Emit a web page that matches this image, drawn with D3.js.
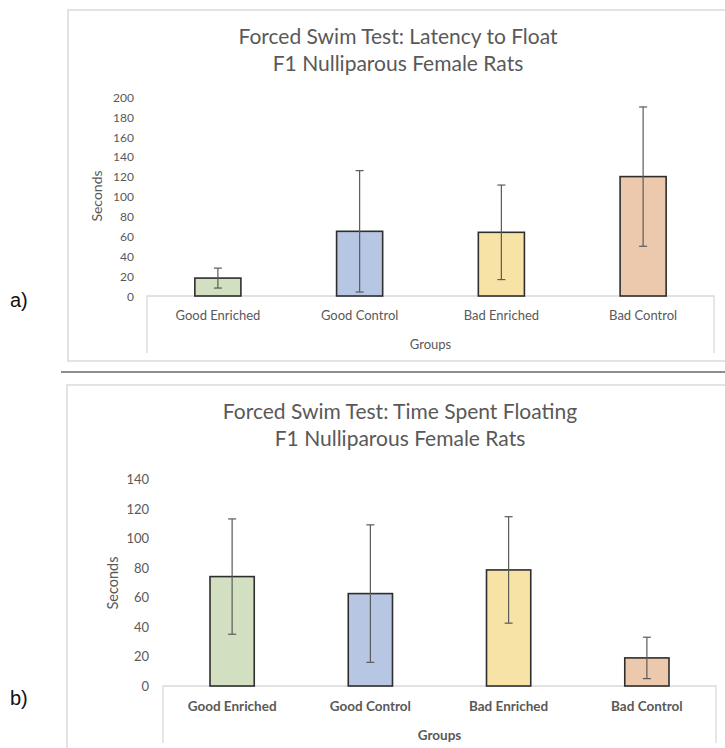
<!DOCTYPE html>
<html>
<head>
<meta charset="utf-8">
<script src="https://cdn.jsdelivr.net/npm/d3@7"></script>
<style>
  body { margin: 0; background: #fff; }
  svg { display: block; }
  text { font-family: Lato, "Open Sans", sans-serif; }
</style>
</head>
<body>
<div class="fig"></div>
<script>
var W = 725, H = 748;

// data
var groups = ["Good Enriched", "Good Control", "Bad Enriched", "Bad Control"];
var barColors = ["#d2e0c1", "#b7c6e2", "#f7e3a6", "#ecc9ad"];
var latencyMeans = [18, 65, 64, 120];
var latencyErr = [10, 61, 47.5, 70];
var latencyTicks = [0, 20, 40, 60, 80, 100, 120, 140, 160, 180, 200];
var floatMeans = [74, 62.5, 78.5, 19];
var floatErr = [39, 46.5, 36, 14];
var floatTicks = [0, 20, 40, 60, 80, 100, 120, 140];

var svg = d3.select(".fig").append("svg")
    .attr("width", W).attr("height", H);

// separator between the two panels
svg.append("line")
    .attr("x1", 61).attr("x2", W).attr("y1", 372).attr("y2", 372)
    .attr("stroke", "#8f8f8f").attr("stroke-width", 2);

function drawChart(cfg){ // one excel-style bar chart with error bars
    var g = svg.append("g");

    g.append("rect") // chart border
        .attr("x", cfg.box[0]).attr("y", cfg.box[1])
        .attr("width", cfg.box[2]).attr("height", cfg.box[3])
        .attr("fill", "none").attr("stroke", "#dadada").attr("stroke-width", 1.5);

    g.append("text").text(cfg.label) // a) / b)
        .attr("x", 10).attr("y", cfg.labelY)
        .style("font-family", "'Liberation Sans', Arial, sans-serif")
        .style("font-size", "20px").attr("fill", "#111");

    cfg.title.forEach(function(t, i){
        g.append("text").text(t)
            .attr("x", cfg.titleX).attr("y", cfg.titleY[i])
            .attr("text-anchor", "middle")
            .style("font-size", cfg.titleSize + "px")
            .attr("fill", "#595959");
    });

    var x = d3.scaleBand().domain(groups).range([cfg.x0, cfg.x1]).padding(0);
    var y = d3.scaleLinear().domain([0, cfg.ymax]).range([cfg.y0, cfg.yTop]);
    var bw = x.bandwidth() * cfg.barFrac;

    // y tick labels (no axis line in the original)
    var yAxis = d3.axisLeft(y).tickValues(cfg.ticks).tickSize(0).tickPadding(0);
    var ya = g.append("g")
        .attr("transform", `translate(${cfg.tickRight},0)`)
        .call(yAxis);
    ya.select(".domain").remove();
    ya.selectAll("text")
        .attr("dy", "0.35em")
        .style("font-family", "Lato, sans-serif")
        .style("font-size", cfg.tickSize + "px")
        .attr("fill", "#595959");

    g.append("text").text("Seconds")
        .attr("transform", `translate(${cfg.ylabX},${cfg.ylabY}) rotate(-90)`)
        .attr("text-anchor", "middle").attr("dy", "0.35em")
        .style("font-size", cfg.ylabSize + "px")
        .attr("fill", "#595959");

    // category axis box
    var boxBottom = cfg.catBottom;
    g.append("path")
        .attr("d", `M${cfg.x0},${boxBottom}V${cfg.y0}H${cfg.x1}V${boxBottom}`)
        .attr("fill", "none").attr("stroke", "#d9d9d9").attr("stroke-width", 1.3);

    g.selectAll(".cat").data(groups).enter().append("text")
        .attr("class", "cat")
        .text(function(d){ return d; })
        .attr("x", function(d){ return x(d) + x.bandwidth() / 2; })
        .attr("y", cfg.catY).attr("dy", "0.35em")
        .attr("text-anchor", "middle")
        .style("font-size", cfg.catSize + "px")
        .style("font-weight", cfg.catWeight)
        .attr("fill", "#595959");

    g.append("text").text("Groups")
        .attr("x", (cfg.x0 + cfg.x1) / 2).attr("y", cfg.groupsY).attr("dy", "0.35em")
        .attr("text-anchor", "middle")
        .style("font-size", cfg.catSize + "px")
        .style("font-weight", cfg.catWeight)
        .attr("fill", "#595959");

    // bars
    g.selectAll(".bar").data(cfg.means).enter().append("rect")
        .attr("class", "bar")
        .attr("x", function(d, i){ return x(groups[i]) + (x.bandwidth() - bw) / 2; })
        .attr("y", function(d){ return y(d); })
        .attr("width", bw)
        .attr("height", function(d){ return y(0) - y(d); })
        .attr("fill", function(d, i){ return barColors[i]; })
        .attr("stroke", "#2e2e2e").attr("stroke-width", 1.6);

    // error bars
    var eb = g.selectAll(".err").data(cfg.means).enter().append("g")
        .attr("class", "err")
        .attr("stroke", "#5a5a5a").attr("stroke-width", 1.2);
    var cx = function(i){ return x(groups[i]) + x.bandwidth() / 2; };
    eb.append("line")
        .attr("x1", function(d, i){ return cx(i); })
        .attr("x2", function(d, i){ return cx(i); })
        .attr("y1", function(d, i){ return y(d + cfg.err[i]); })
        .attr("y2", function(d, i){ return y(d - cfg.err[i]); });
    [1, -1].forEach(function(s){
        eb.append("line")
            .attr("x1", function(d, i){ return cx(i) - 4; })
            .attr("x2", function(d, i){ return cx(i) + 4; })
            .attr("y1", function(d, i){ return y(d + s * cfg.err[i]); })
            .attr("y2", function(d, i){ return y(d + s * cfg.err[i]); });
    });
}

drawChart({
    label: "a)", labelY: 307,
    box: [68, 10, 670, 351],
    title: ["Forced Swim Test: Latency to Float", "F1 Nulliparous Female Rats"],
    titleX: 398, titleY: [44, 71], titleSize: 21,
    x0: 147, x1: 714, y0: 296, yTop: 97, ymax: 200,
    barFrac: 0.325, ticks: latencyTicks, tickRight: 134, tickSize: 12,
    ylabX: 97, ylabY: 196, ylabSize: 14,
    catBottom: 353, catY: 315, groupsY: 344, catSize: 13, catWeight: "normal",
    means: latencyMeans, err: latencyErr
});

drawChart({
    label: "b)", labelY: 705,
    box: [67, 385, 670, 380],
    title: ["Forced Swim Test: Time Spent Floating", "F1 Nulliparous Female Rats"],
    titleX: 400, titleY: [419, 446], titleSize: 21,
    x0: 163, x1: 716, y0: 686, yTop: 479, ymax: 140,
    barFrac: 0.32, ticks: floatTicks, tickRight: 149, tickSize: 13,
    ylabX: 113, ylabY: 583, ylabSize: 14.5,
    catBottom: 743, catY: 706, groupsY: 735, catSize: 13.5, catWeight: "bold",
    means: floatMeans, err: floatErr
});
</script>
</body>
</html>
